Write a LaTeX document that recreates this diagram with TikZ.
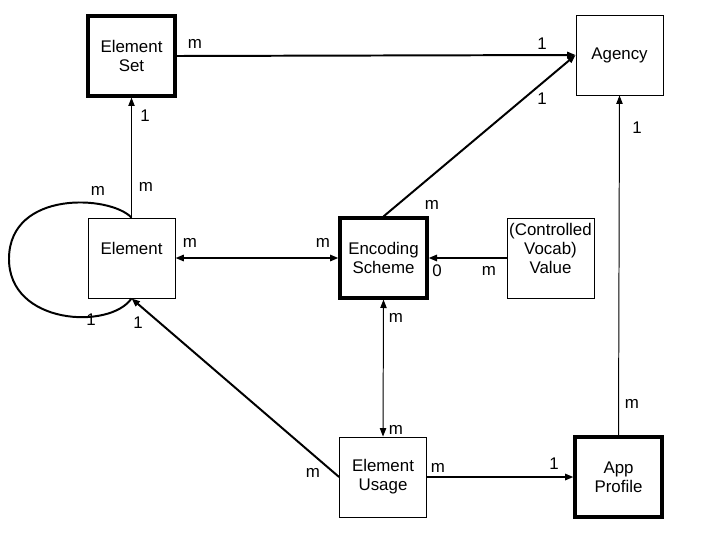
\documentclass[tikz,border=0pt]{standalone}
\usepackage{fontspec}
\setmainfont{Liberation Sans}
\usetikzlibrary{arrows.meta}
\begin{document}
\begin{tikzpicture}[x=0.025cm,y=-0.025cm,font=\fontsize{12}{13.5}\selectfont,
        >={Triangle[length=6pt,width=4.5pt]},
        entity/.style={draw,line width=0.6pt,minimum width=2.175cm,minimum height=2cm,inner sep=0pt,align=center},
        mainentity/.style={entity,line width=2.2pt},
        link/.style={line width=1.4pt},
        thinlink/.style={line width=0.7pt}]
            \useasboundingbox (0,0) rectangle (720,540);
            \node[mainentity] (elset) at (131.5,56) {Element\\Set};
            \node[entity] (agency) at (619.5,55) {Agency};
            \node[entity] (element) at (131.5,258) {Element\\\phantom{E}};
            \node[mainentity] (encoding) at (383.5,258) {Encoding\\Scheme};
            \node[entity] (value) at (550.5,258) {(Controlled\\Vocab)\\Value\\\phantom{V}};
            \node[entity] (usage) at (383,477) {Element\\Usage};
            \node[mainentity] (profile) at (618.5,477) {App\\Profile};
            \draw[link,->] (elset.east) -- (agency.west);
            \draw[link,->] (encoding.north) -- (agency.west);
            \draw[thinlink,->] (element.north) -- (elset.south);
            \draw[link,<->] (element.east) -- (encoding.west);
            \draw[link,->] (value.west) -- (encoding.east);
            \draw[thinlink,<->] (encoding.south) -- (usage.north);
            \draw[link,->] (usage.west) -- (element.south);
            \draw[link,->] (usage.east) -- (profile.west);
            \draw[thinlink,->] (profile.north) -- (agency.south);
            \draw[link] (element.north) .. controls (110,195) and (10,190) .. (9,258)
                .. controls (8,325) and (110,330) .. (element.south);
            \foreach \x/\y/\t [count=\i] in {195/44/m, 542/44/1, 542/99/1, 145/116/1, 637/128/1,
                    98/191/m, 146/187/m, 432/205/m, 190/243/m, 323/243/m, 437/271/0, 489/271/m,
                    91/320/1, 138/323/1, 396/318/m, 632/404/m, 396/430/m, 313/473/m, 438/468/m, 554/464/1}
                \node (lbl\i) at (\x,\y) {\t};
\end{tikzpicture}
\end{document}
